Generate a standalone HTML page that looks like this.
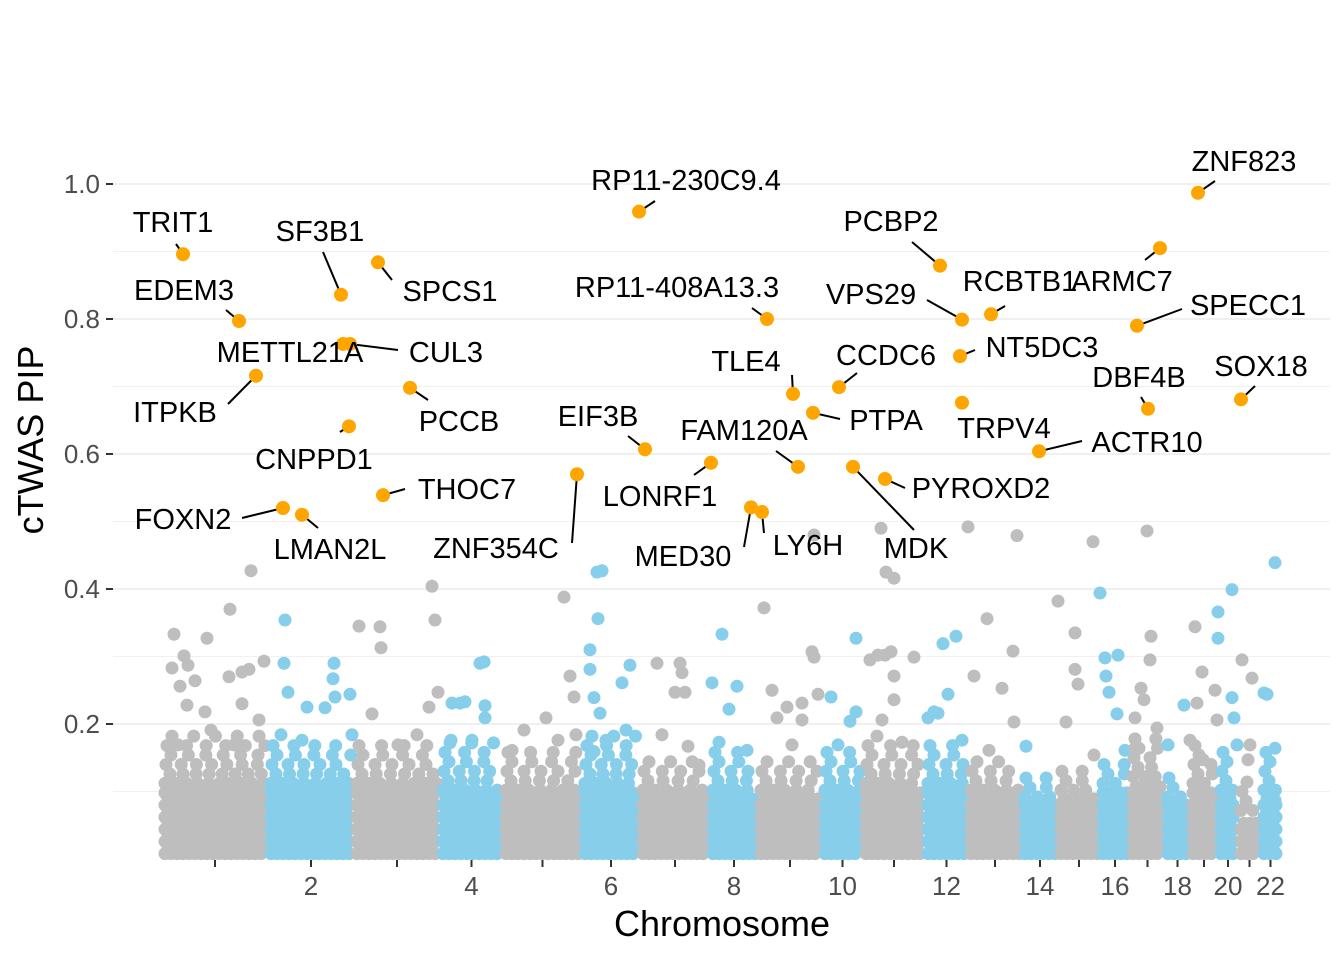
<!DOCTYPE html>
<html><head><meta charset="utf-8"><style>
html,body{margin:0;padding:0;background:#fff;}
svg{display:block;font-family:"Liberation Sans",Arial,sans-serif;}
</style></head><body>
<svg id="chart" width="1344" height="960" viewBox="0 0 1344 960">
<g id="grid"></g>
<g id="bg"></g>
<g id="hits"></g>
<g id="axes"></g>
</svg>
<script>
// ---- data ----
const chrBounds = [0,106,192,278,341,420,478,548,596,660,701,763,806,860,896,938,968,1003,1028,1056,1076,1099,1118];
const yTicks = [0.2,0.4,0.6,0.8,1.0];
const yTickLabels = ["0.2","0.4","0.6","0.8","1.0"];
const xTickLabels = ["","2","","4","","6","","8","","10","","12","","14","","16","","18","","20","","22"];
const bandTop = [0.1,0.1,0.1,0.09,0.09,0.1,0.09,0.09,0.09,0.09,0.1,0.1,0.09,0.08,0.09,0.1,0.11,0.08,0.1,0.09,0.06,0.09];
const midTop = [0.19,0.18,0.17,0.18,0.16,0.19,0.15,0.16,0.15,0.16,0.17,0.17,0.15,0.13,0.14,0.15,0.19,0.13,0.17,0.16,0.12,0.16];
// scattered background points: [genome position, PIP]
const bgPos = [12,22,26,10,18,33,45,68,89,67,80,87,102,43,16,49,80,97,72,25,
123,122,126,145,163,172,171,173,197,188,119,140,190,
218,219,210,270,273,267,255,236,
276,290,298,303,318,322,323,323,289,310,
384,362,350,402,408,412,414,396,
435,440,436,428,428,432,438,444,432,468,460,464,
495,518,520,513,523,500,526,537,
560,550,575,567,602,557,585,
610,615,625,640,650,652,640,652,630,
656,669,694,694,688,676,
719,724,732,708,716,723,729,752,732,732,720,715,740,
806,794,781,812,786,772,776,766,800,
855,825,851,840,852,827,
896,864,
932,931,913,913,916,904,
963,938,956,943,944,947,955,
973,985,989,988,979,982,973,995,
1022,1006,1028,
1041,1033,1040,1055,1053,1035,
1075,1070,1056,1056,1080,1070,1072,
1088,1090,1086,
1113,1113,1102,1105,1113];
const bgPip = [.333,.301,.287,.283,.256,.264,.327,.370,.427,.270,.277,.281,.293,.218,.169,.191,.23,.206,.169,.228,
.354,.290,.247,.225,.224,.290,.267,.24,.345,.244,.184,.176,.184,
.344,.313,.215,.404,.354,.225,.184,.169,
.247,.231,.231,.233,.29,.292,.227,.209,.176,.176,
.209,.191,.161,.388,.271,.24,.184,.176,
.425,.427,.356,.31,.281,.239,.216,.176,.159,.287,.261,.191,
.29,.29,.276,.247,.247,.184,.167,.139,
.333,.261,.256,.222,.372,.173,.161,
.25,.209,.225,.231,.307,.299,.206,.48,.169,
.244,.24,.327,.218,.204,.169,
.49,.425,.416,.295,.302,.302,.307,.299,.271,.236,.206,.182,.173,
.492,.33,.319,.271,.244,.218,.216,.209,.176,
.479,.356,.308,.253,.203,.161,
.382,.167,.154,
.47,.335,.281,.259,.203,.161,
.394,.302,.298,.271,.247,.215,.164,
.486,.33,.295,.253,.236,.209,.194,.228,
.169,.176,.147,
.344,.277,.206,.25,.231,.169,
.399,.366,.327,.295,.239,.209,.169,
.268,.147,.087,
.439,.246,.244,.164,.117];
const hitGenes = ["TRIT1","EDEM3","METTL21A","CUL3","ITPKB","SF3B1","SPCS1","CNPPD1","PCCB","THOC7","FOXN2","LMAN2L","RP11-230C9.4","RP11-408A13.3","EIF3B","ZNF354C","LONRF1","FAM120A","MED30","LY6H","TLE4","PTPA","CCDC6","PCBP2","VPS29","RCBTB1","NT5DC3","TRPV4","MDK","PYROXD2","ACTR10","ARMC7","ZNF823","SPECC1","DBF4B","SOX18"];
const hitPos = [21,77,181,188,94,179,216,187,248,221,121,140,477,605,483,415,549,636,589,600,631,651,677,778,800,829,798,800,691,723,877,998,1036,975,986,1079];
const hitPip = [.896,.797,.763,.763,.716,.836,.884,.641,.698,.539,.52,.51,.959,.8,.607,.57,.587,.581,.521,.514,.689,.661,.699,.879,.799,.807,.745,.676,.581,.563,.604,.905,.987,.79,.667,.681];
// label placement (pixel offsets, not data): [labelX, labelY, lineEndX, lineEndY]
const labelLayout = [[173,222,176,244],[184,290,226,310],[290,352,null,null],[446,352,398,350],[175,412,228,404],[320,231,323,252],[450,291,392,280],[314,459,340,432],[459,421,428,400],[467,489,405,489],[183,519,242,518],[330,549,318,528],[686,180,655,201],[677,287,752,308],[598,416,628,436],[496,548,572,543],[660,496,694,475],[744,430,776,451],[683,556,744,547],[808,545,764,533],[746,361,792,375],[886,420,840,419],[886,355,857,373],[891,221,912,242],[871,294,927,300],[1020,281,1005,306],[1042,347,975,350],[1004,428,null,null],[916,548,914,530],[981,488,905,488],[1147,442,1082,441],[1122,281,1145,260],[1244,161,1215,181],[1248,305,1182,309],[1139,377,1141,397],[1261,366,1255,386]];

// ---- scales ----
const X0=162, Y0=859, YS=675;
const xs = p => X0 + p;
const ys = v => Y0 - v*YS;
const NS="http://www.w3.org/2000/svg";
function mk(tag, parent, attrs){const e=document.createElementNS(NS,tag);for(const k in attrs)e.setAttribute(k,attrs[k]);parent.appendChild(e);return e;}
const grid=document.getElementById('grid'), bg=document.getElementById('bg'), hits=document.getElementById('hits'), axes=document.getElementById('axes');
const colors=["#BEBEBE","#87CEEB"];

// grid
for(let v=0.1; v<1.05; v+=0.1){
  const major = Math.round(v*10)%2===0;
  const l=mk('line',grid,{x1:113,x2:1330,y1:ys(v),y2:ys(v),stroke:'#ebebeb','stroke-width':major?1.6:0.8});
  
  
}

// dense band per chromosome
for(let c=0;c<22;c++){
  const g=mk('g',bg,{fill:colors[c%2]});
  
  
  const a=chrBounds[c]+3, b=chrBounds[c+1]-3;
  const bt=bandTop[c], mt=midTop[c];
  let row=0;
  for(let v=0.008; v<=bt; v+=0.009, row++){
    for(let p=a+(row%2?3:0); p<=b; p+=6){
      const pt=mk('circle',g,{cx:xs(p),cy:ys(v),r:6.5});
      
      
    }
  }
  row=0;
  for(let v=bt+0.012; v<=mt; v+=0.014, row++){
    const frac=(v-bt)/(mt-bt);
    const step=9+frac*14;
    for(let p=a+((row*5)%9); p<=b; p+=step){
      const pt=mk('circle',g,{cx:xs(p),cy:ys(v),r:6.5});
      
      
    }
  }
}
// scattered
function chrOf(p){for(let c=0;c<22;c++){if(p<chrBounds[c+1])return c;}return 21;}
for(let i=0;i<bgPos.length;i++){
  const pt=mk('circle',bg,{cx:xs(bgPos[i]),cy:ys(bgPip[i]),r:6.5,fill:colors[chrOf(bgPos[i])%2]});
  
  
}
// hits
for(let i=0;i<hitGenes.length;i++){
  const px=xs(hitPos[i]), py=ys(hitPip[i]);
  const L=labelLayout[i];
  if(L[2]!==null){
    const ln=mk('line',hits,{x1:px,y1:py,x2:L[2],y2:L[3],stroke:'#000','stroke-width':2});
    
    
  }
}
for(let i=0;i<hitGenes.length;i++){
  const pt=mk('circle',hits,{cx:xs(hitPos[i]),cy:ys(hitPip[i]),r:7,fill:'#FFA500'});
  
  
}
for(let i=0;i<hitGenes.length;i++){
  const L=labelLayout[i];
  const t=mk('text',hits,{x:L[0],y:L[1]+10,'text-anchor':'middle','font-size':29,fill:'#000'});
  t.textContent=hitGenes[i];
  
  
}
// y axis
for(let i=0;i<yTicks.length;i++){
  const y=ys(yTicks[i]);
  const tk=mk('line',axes,{x1:106,x2:113,y1:y,y2:y,stroke:'#333','stroke-width':2});
  
  
  const t=mk('text',axes,{x:100,y:y+9,'text-anchor':'end','font-size':26,fill:'#4d4d4d'});
  t.textContent=yTickLabels[i];
  
  
}
// x axis
for(let c=0;c<22;c++){
  const x=xs((chrBounds[c]+chrBounds[c+1])/2);
  const tk=mk('line',axes,{x1:x,x2:x,y1:860,y2:867,stroke:'#333','stroke-width':2});
  
  
  if(xTickLabels[c]){
    const t=mk('text',axes,{x:x,y:895,'text-anchor':'middle','font-size':26,fill:'#4d4d4d'});
    t.textContent=xTickLabels[c];
    
    
  }
}
const xt=mk('text',axes,{x:722,y:936,'text-anchor':'middle','font-size':36,fill:'#000'});
xt.textContent='Chromosome';


const yt=mk('text',axes,{x:0,y:0,'text-anchor':'middle','font-size':36,fill:'#000',transform:'translate(43,440) rotate(-90)'});
yt.textContent='cTWAS PIP';


</script>
</body></html>
